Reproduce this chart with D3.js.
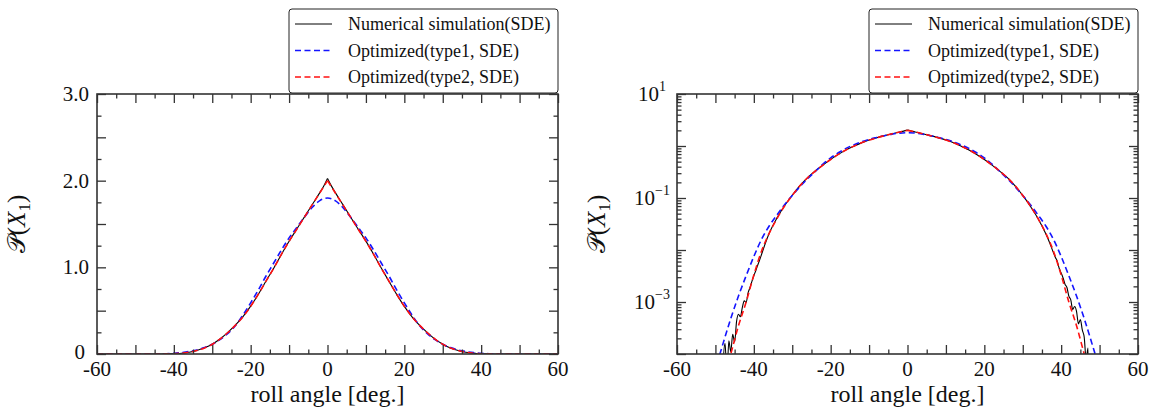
<!DOCTYPE html>
<html>
<head>
<meta charset="utf-8">
<script src="https://cdn.jsdelivr.net/npm/d3@7"></script>
<style>
  body { margin: 0; background: #fff; }
  text { font-family: "Liberation Serif", "Times New Roman", serif; fill: #111; }
</style>
</head>
<body>
<svg id="chart" width="1154" height="412"></svg>
<script>
const fitX = [-60, -55, -50, -48, -46, -44, -42, -40, -38, -36, -34, -32, -30, -28, -26, -24, -22, -20, -18, -16, -14, -12, -10, -8, -6, -4, -2,
  0, 2, 4, 6, 8, 10, 12, 14, 16, 18, 20, 22, 24, 26, 28, 30, 32, 34, 36, 38, 40, 42, 44, 46, 48, 50, 55, 60];

const type1P = [0.00000001, 0.000001, 0.00005, 0.00016, 0.00048, 0.0013, 0.0032, 0.0075, 0.016, 0.029, 0.047, 0.074, 0.112, 0.165, 0.235, 0.325, 0.45, 0.59, 0.74, 0.90, 1.05, 1.20, 1.34, 1.46, 1.58, 1.69, 1.77,
  1.80, 1.77, 1.69, 1.58, 1.46, 1.34, 1.20, 1.05, 0.90, 0.74, 0.59, 0.45, 0.325, 0.235, 0.165, 0.112, 0.074, 0.047, 0.029, 0.016, 0.0075, 0.0032, 0.0013, 0.00048, 0.00016, 0.00005, 0.000001, 0.00000001];

const type2P = [0.000000001, 0.0000002, 0.000008, 0.00003, 0.0001, 0.00035, 0.0010, 0.0033, 0.0095, 0.021, 0.040, 0.070, 0.112, 0.172, 0.245, 0.33, 0.43, 0.55, 0.69, 0.84, 0.99, 1.15, 1.30, 1.44, 1.58, 1.72, 1.86,
  2.00, 1.86, 1.72, 1.58, 1.44, 1.30, 1.15, 0.99, 0.84, 0.69, 0.55, 0.43, 0.33, 0.245, 0.172, 0.112, 0.070, 0.040, 0.021, 0.0095, 0.0033, 0.0010, 0.00035, 0.0001, 0.00003, 0.000008, 0.0000002, 0.000000001];

const simX = [-60, -50, -48.5, -48, -47.5, -47, -46.5, -46, -45.5, -45, -44.5, -44, -43.5, -43, -42.5, -42, -41.5, -41, -40.5, -40, -39.5, -39, -38.5, -38, -37,
  -36, -34, -32, -30, -28, -26, -24, -22, -20, -18, -16, -14, -12, -10, -8, -6, -4, -2, -1, 0, 1, 2, 4, 6, 8, 10, 12, 14, 16, 18, 20, 22, 24, 26, 28, 30, 32, 34, 36,
  37, 38, 38.5, 39, 39.5, 40, 40.5, 41, 41.5, 42, 42.5, 43, 43.5, 44, 44.5, 45, 45.5, 46, 46.5, 47, 47.5, 50, 60];

const simP = [0, 0, 0, 0.00006, 0.00016, 0.00004, 0.00018, 0.00011, 0.00024, 0.00017, 0.00042, 0.00058, 0.00052, 0.00078, 0.00105, 0.00098, 0.0015, 0.0019, 0.0025, 0.0032, 0.0040, 0.0051, 0.0064, 0.0082, 0.0135,
  0.0210, 0.041, 0.071, 0.113, 0.173, 0.247, 0.332, 0.431, 0.552, 0.69, 0.842, 0.99, 1.148, 1.30, 1.442, 1.582, 1.722, 1.862, 1.935, 2.025, 1.94, 1.865, 1.724, 1.581, 1.44, 1.302, 1.151, 0.992, 0.838, 0.688, 0.549, 0.429, 0.329, 0.246, 0.171, 0.112, 0.069, 0.040, 0.0205,
  0.0138, 0.0088, 0.0072, 0.0060, 0.0044, 0.0036, 0.0029, 0.0022, 0.0019, 0.0013, 0.0011, 0.00072, 0.00082, 0.00066, 0.00038, 0.00046, 0.00029, 0.00021, 0.00008, 0.00013, 0, 0, 0];

const xTickLabels = [-60, -40, -20, 0, 20, 40, 60];
const linTickValues = [0, 1, 2, 3];
const linTickLabels = ["0", "1.0", "2.0", "3.0"];
const logTickExponents = [1, -1, -3];
const legendLabels = ["Numerical simulation(SDE)", "Optimized(type1, SDE)", "Optimized(type2, SDE)"];

/* Layout */
const svg = d3.select("#chart");
const plotTop = 94, plotBottom = 354;
const axisColor = "#333";
const seriesStyle = [
  { color: "#000", width: 1.1, dash: null },
  { color: "#1414ff", width: 1.6, dash: "6,3.5" },
  { color: "#ff1010", width: 1.6, dash: "6,3.5" }
];

const panels = [
  { id: "lin", left: 97, right: 558, log: false },
  { id: "log", left: 677, right: 1138, log: true }
];

panels.forEach(p => drawPanel(p));

function drawPanel(p) {
  const g = svg.append("g");
  const x = d3.scaleLinear().domain([-60, 60]).range([p.left, p.right]);
  const y = p.log
    ? d3.scaleLog().domain([1e-4, 10]).range([plotBottom, plotTop])
    : d3.scaleLinear().domain([0, 3]).range([plotBottom, plotTop]);
  const yv = v => p.log ? y(Math.max(v, 1e-7)) : y(v);

  /* Clip-Bereich */
  svg.append("defs").append("clipPath").attr("id", "clip-" + p.id)
    .append("rect")
    .attr("x", p.left).attr("y", plotTop)
    .attr("width", p.right - p.left).attr("height", plotBottom - plotTop);

  const plot = g.append("g").attr("clip-path", `url(#clip-${p.id})`);

  const smooth = d3.line().x(d => x(d[0])).y(d => yv(d[1])).curve(d3.curveMonotoneX);

  /* Spitze bei 0 erhalten: linke und rechte Hälfte getrennt glätten */
  const halves = data => [data.filter(d => d[0] <= 0), data.filter(d => d[0] >= 0)];

  const series = [
    { parts: halves(d3.zip(simX, simP)) },
    { parts: [d3.zip(fitX, type1P)] },
    { parts: halves(d3.zip(fitX, type2P)) }
  ];

  series.forEach((s, i) => {
    s.parts.forEach(part => {
      plot.append("path")
        .attr("d", smooth(part))
        .attr("fill", "none")
        .attr("stroke", seriesStyle[i].color)
        .attr("stroke-width", seriesStyle[i].width)
        .attr("stroke-dasharray", seriesStyle[i].dash)
        .attr("stroke-linejoin", "round");
    });
  });

  /* Achsen mit Ticks nach innen */
  const xMajor = d3.range(-60, 61, 10);
  const xMinor = d3.range(-55, 60, 10);
  let yMajor, yMinor;
  if (p.log) {
    yMajor = d3.range(-4, 2).map(e => Math.pow(10, e));
    yMinor = [];
    for (let e = -4; e < 1; e++) for (let k = 2; k < 10; k++) yMinor.push(k * Math.pow(10, e));
  } else {
    yMajor = d3.range(0, 3.01, 0.5);
    yMinor = d3.range(0.25, 3, 0.5);
  }

  const ax = g.append("g").attr("color", axisColor);
  const addAxis = (gen, tr) => {
    ax.append("g").attr("transform", tr)
      .call(gen.tickSizeOuter(0).tickFormat(""))
      .call(s => s.select(".domain").remove())
      .call(s => s.selectAll("line").attr("stroke-width", 1.3));
  };
  addAxis(d3.axisBottom(x).tickValues(xMajor).tickSizeInner(-9), `translate(0,${plotBottom})`);
  addAxis(d3.axisBottom(x).tickValues(xMinor).tickSizeInner(-4.5), `translate(0,${plotBottom})`);
  addAxis(d3.axisTop(x).tickValues(xMajor).tickSizeInner(-9), `translate(0,${plotTop})`);
  addAxis(d3.axisTop(x).tickValues(xMinor).tickSizeInner(-4.5), `translate(0,${plotTop})`);
  addAxis(d3.axisLeft(y).tickValues(yMajor).tickSizeInner(-9), `translate(${p.left},0)`);
  addAxis(d3.axisLeft(y).tickValues(yMinor).tickSizeInner(-4.5), `translate(${p.left},0)`);
  addAxis(d3.axisRight(y).tickValues(yMajor).tickSizeInner(-9), `translate(${p.right},0)`);
  addAxis(d3.axisRight(y).tickValues(yMinor).tickSizeInner(-4.5), `translate(${p.right},0)`);

  /* Rahmen */
  g.append("rect")
    .attr("x", p.left).attr("y", plotTop)
    .attr("width", p.right - p.left).attr("height", plotBottom - plotTop)
    .attr("fill", "none").attr("stroke", axisColor).attr("stroke-width", 1.6);

  /* x-Beschriftung */
  g.selectAll("text.xl").data(xTickLabels).enter().append("text")
    .attr("class", "xl")
    .attr("x", d => x(d)).attr("y", 376)
    .attr("text-anchor", "middle")
    .style("font-size", "21px")
    .text(d => d);

  /* y-Beschriftung */
  if (p.log) {
    logTickExponents.forEach(e => {
      const t = g.append("text")
        .attr("x", p.left - 25).attr("y", y(Math.pow(10, e)) + 7)
        .attr("text-anchor", "middle")
        .style("font-size", "21px");
      t.append("tspan").text("10");
      t.append("tspan").attr("dy", -10).style("font-size", "14px")
        .text(e < 0 ? "\u2212" + Math.abs(e) : String(e));
    });
  } else {
    g.selectAll("text.yl").data(linTickValues).enter().append("text")
      .attr("class", "yl")
      .attr("x", d => d === 0 ? p.left - 12 : p.left - 8)
      .attr("y", d => y(d) + (d === 0 ? 5 : 7))
      .attr("text-anchor", "end")
      .style("font-size", "21px")
      .text((d, i) => linTickLabels[i]);
  }

  /* Achsentitel */
  g.append("text")
    .attr("x", (p.left + p.right) / 2).attr("y", 402)
    .attr("text-anchor", "middle")
    .style("font-size", "24px")
    .text("roll angle [deg.]");

  const cy = (plotTop + plotBottom) / 2;
  const yt = g.append("text")
    .attr("transform", `translate(${p.left - 72},${cy}) rotate(-90)`)
    .attr("text-anchor", "middle")
    .style("font-size", "25px");
  yt.append("tspan").style("font-family", "'DejaVu Serif', 'DejaVu Sans', serif").text("\u{1D4AB}");
  yt.append("tspan").text("(");
  yt.append("tspan").style("font-style", "italic").text("X");
  yt.append("tspan").attr("dy", 5).style("font-size", "17px").text("1");
  yt.append("tspan").attr("dy", -5).text(")");

  /* Legende */
  const lw = 269, lh = 84;
  const lg = g.append("g").attr("transform", `translate(${p.right - lw},9)`);
  lg.append("rect")
    .attr("width", lw).attr("height", lh).attr("rx", 3)
    .attr("fill", "#fff").attr("stroke", "#222").attr("stroke-width", 1);
  legendLabels.forEach((lab, i) => {
    const ly = 15 + i * 26.5;
    lg.append("line")
      .attr("x1", 6).attr("x2", 43).attr("y1", ly).attr("y2", ly)
      .attr("stroke", seriesStyle[i].color)
      .attr("stroke-width", i === 0 ? 1 : 1.6)
      .attr("stroke-dasharray", seriesStyle[i].dash);
    lg.append("text")
      .attr("x", 59).attr("y", ly + 6)
      .style("font-size", "18px")
      .text(lab);
  });
}
</script>
</body>
</html>
